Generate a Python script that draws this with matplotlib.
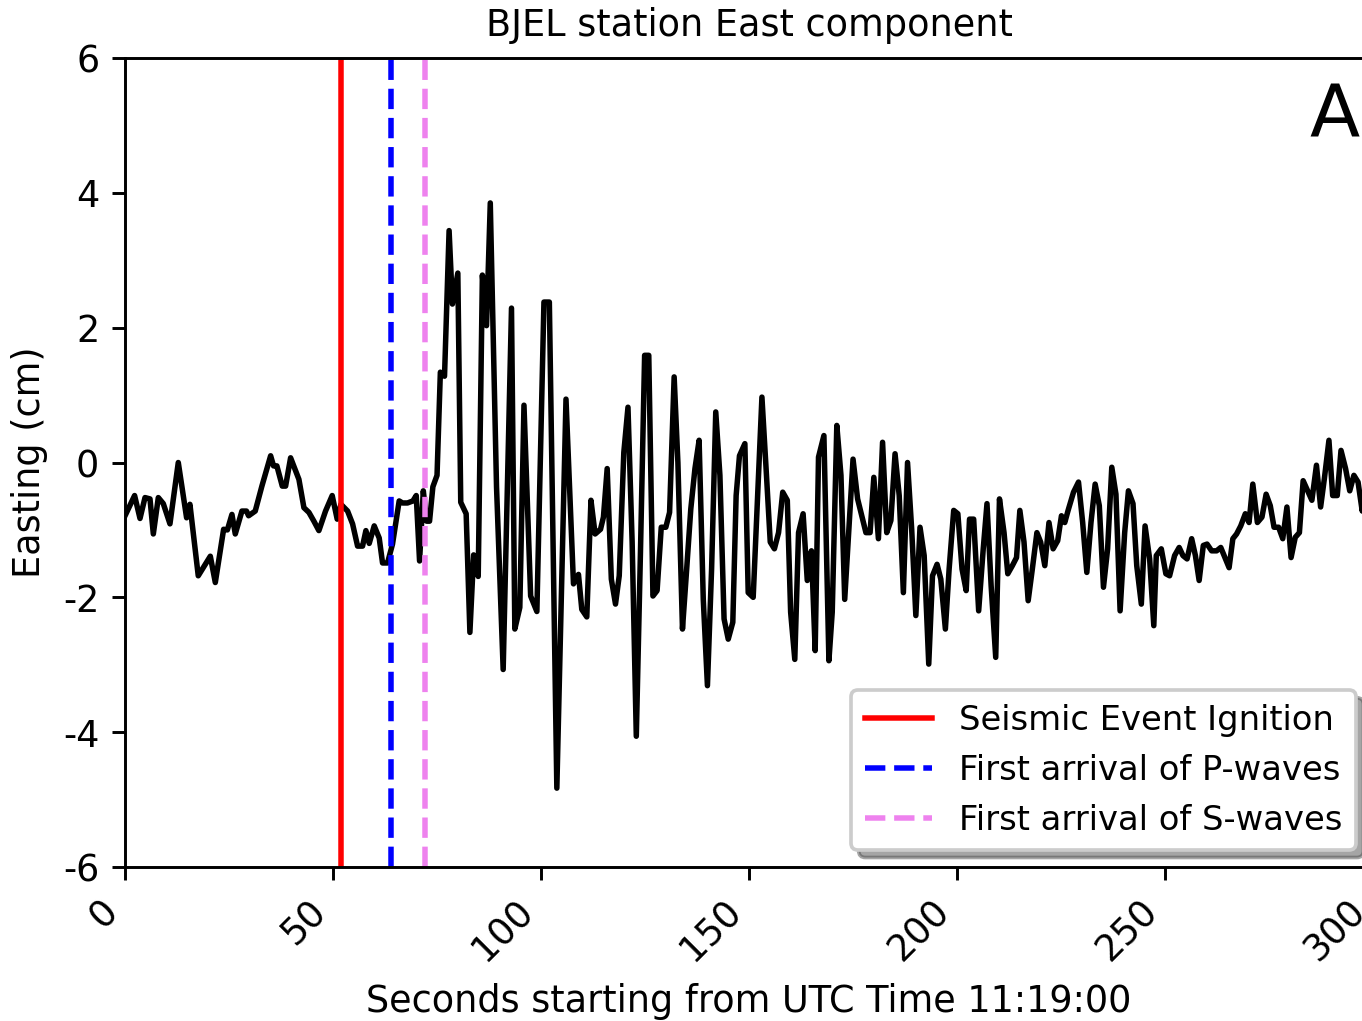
import numpy as np
import matplotlib
matplotlib.use("Agg")
import matplotlib.pyplot as plt

plt.rcParams['axes.unicode_minus'] = False

# ============================
# DATA
# ============================
seconds = [
    0, 2.3, 3.6, 4.8, 6.0, 6.8, 8.0, 9.2, 10.8, 12.8, 14.8, 15.6, 17.6, 20.5, 21.7,
    23.7, 24.6, 25.7, 26.5, 28.1, 29.2, 29.7, 31.3, 32.9, 35.0, 35.7, 36.5, 37.8,
    38.6, 39.8, 41.8, 43.0, 44.2, 45.4, 46.6, 48.2, 49.8, 51.0, 51.9, 53.5, 54.7,
    55.9, 57.1, 57.9, 58.7, 59.9, 61.1, 61.9, 63.1, 64.3, 65.9, 66.7, 67.9, 69.2,
    70.0, 70.8, 71.3, 71.7, 72.5, 73.2,
    74.0, 75.0, 75.8, 76.8, 77.9, 78.7, 80.0, 80.7, 82.0, 82.9, 83.8, 84.9, 85.9,
    86.9, 87.8, 89.3, 90.9, 92.9, 93.7, 94.9, 95.9, 97.5, 99.0, 100.7, 102.0,
    103.8, 106.0, 107.8, 109.0, 109.8, 111.0, 112.0,
    113.0, 114.3, 115.0, 115.9, 116.9, 117.9, 118.8, 119.9, 120.9, 121.9, 122.9,
    123.9, 124.9, 125.9, 126.9, 127.9, 128.9, 130.0, 130.9, 132.0, 132.9, 134.0,
    134.9, 136.0, 137.0, 138.0, 139.0, 140.0, 141.0, 142.0, 143.0, 144.0, 145.0,
    146.1, 146.9, 147.7, 149.0, 149.8, 151.0, 152.1, 153.1, 154.1, 155.1, 156.1,
    157.1, 158.1,
    159.2, 160.0, 161.0, 161.9, 163.0, 164.0, 165.0, 165.9, 166.7, 168.0, 169.2,
    170.0, 171.1, 172.1, 173.0, 174.1, 175.0, 176.1, 177.1, 178.1, 179.1, 180.0,
    181.1, 182.1, 183.1, 184.1, 185.1, 186.1, 187.1, 188.1, 189.1, 190.1, 191.1,
    192.1, 193.2, 194.1, 195.2, 196.1, 197.2, 198.1, 199.2, 200.2, 201.2, 202.2,
    203.0, 204.0, 205.2, 206.3, 207.2, 208.2, 209.3, 210.2, 211.3, 212.2, 213.3,
    214.3, 215.1, 216.1, 217.1, 218.1, 219.2, 220.1, 221.1, 222.1, 223.1, 224.2,
    225.1, 225.9, 226.7, 228.0, 229.2, 230.2, 231.2, 232.2, 233.2, 234.2, 235.2,
    236.2, 237.2, 238.2, 239.2, 240.3, 241.2, 242.3, 243.2, 244.3, 245.2, 246.3,
    247.3,
    247.9, 249.1, 250.2, 251.1, 252.3, 253.4, 254.3, 255.3, 256.4, 257.3, 258.2,
    259.2, 260.1, 261.2, 262.4, 263.4, 264.4, 265.4, 266.3, 267.2, 268.2, 269.3,
    270.2, 271.1, 272.2, 273.3, 274.3, 275.3, 276.2, 277.3, 278.3, 279.3, 280.3,
    281.3, 282.3, 283.2, 284.3, 285.3, 286.4, 287.4, 288.3, 289.4, 290.3, 291.4,
    292.3, 293.4, 294.4, 295.4, 296.4, 297.4, 298.2,
]
easting = [
    -0.79, -0.49, -0.83, -0.52, -0.54, -1.06, -0.52, -0.61, -0.91, 0.0, -0.82, -0.62,
    -1.68, -1.39, -1.78, -0.99, -1.0, -0.77, -1.06, -0.72, -0.72, -0.79, -0.72,
    -0.35, 0.1, -0.05, -0.05, -0.35, -0.35, 0.07, -0.25, -0.67, -0.74, -0.87, -1.01,
    -0.72, -0.49, -0.84, -0.62, -0.72, -0.91, -1.24, -1.24, -1.01, -1.2, -0.94,
    -1.12, -1.49, -1.49, -1.21, -0.57, -0.6, -0.6, -0.57, -0.49, -1.46, -0.87,
    -0.42, -0.87, -0.87,
    -0.36, -0.19, 1.34, 1.28, 3.44, 2.35, 2.81, -0.59, -0.76, -2.52, -1.37, -1.69,
    2.78, 2.03, 3.85, -0.36, -3.07, 2.29, -2.47, -2.15, 0.85, -1.98, -2.21, 2.38,
    2.38, -4.83, 0.94, -1.8, -1.66, -2.18, -2.29, -0.56,
    -1.06, -0.99, -0.81, -0.09, -1.73, -2.10, -1.68, 0.15, 0.82, -1.18, -4.06,
    -1.33, 1.59, 1.59, -1.98, -1.90, -0.96, -0.96, -0.74, 1.27, 0.0, -2.47, -1.68,
    -0.69, -0.09, 0.33, -2.03, -3.31, -1.58, 0.75, -0.19, -2.32, -2.62, -2.37,
    -0.49, 0.10, 0.28, -1.93, -2.0, -0.44, 0.97, -0.09, -1.18, -1.28, -1.04, -0.44,
    -0.56, -2.22, -2.92, -1.04, -0.76, -1.75, -1.31, -2.79, 0.08, 0.40, -2.94,
    -2.22, 0.55, -0.19, -2.03, -0.89, 0.05, -0.54, -0.79, -1.04, -1.04, -0.22,
    -1.13, 0.30, -1.04, -0.86, 0.13, -0.49, -1.93, 0.0, -0.99, -2.27, -0.96, -1.38,
    -2.99, -1.68, -1.51, -1.73, -2.47, -1.58, -0.71, -0.76, -1.58, -1.90,
    -0.84, -0.84, -2.2, -1.28, -0.61, -1.83, -2.89, -0.54, -1.04, -1.65, -1.53,
    -1.41, -0.71, -1.18, -2.05, -1.58, -1.04, -1.18, -1.53, -0.89, -1.28, -1.16,
    -0.79, -0.89, -0.71, -0.44, -0.29, -0.89, -1.63, -0.89, -0.32, -0.64, -1.85,
    -1.28, -0.07, -0.47, -2.2, -1.04, -0.42, -0.61, -1.53, -2.10, -0.94, -1.43,
    -2.42,
    -1.38, -1.28, -1.65, -1.68, -1.38, -1.26, -1.38, -1.43, -1.13, -1.38, -1.75,
    -1.23, -1.21, -1.31, -1.31, -1.26, -1.41, -1.56, -1.13, -1.06, -0.94, -0.76,
    -0.89, -0.32, -0.89, -0.81, -0.47, -0.64, -0.96, -0.96, -1.13, -0.66, -1.41,
    -1.11, -1.04, -0.27, -0.42, -0.56, -0.04, -0.66, -0.24, 0.33, -0.49, -0.49,
    0.18, -0.09, -0.42, -0.19, -0.29, -0.72, -0.27,
]

ignition_time = 52
p_wave_time = 64
s_wave_time = 72

xticks = [0, 50, 100, 150, 200, 250, 300]
yticks = [-6, -4, -2, 0, 2, 4, 6]

# ============================
# PLOT
# ============================
dpi = 264
fig = plt.figure(figsize=(1362 / dpi, 1021 / dpi), dpi=dpi)
ax = fig.add_axes([0.0918, 0.1508, 0.9163, 0.7924])

ax.plot(seconds, easting, color='black')
ax.axvline(ignition_time, color='red', label='Seismic Event Ignition')
ax.axvline(p_wave_time, color='blue', linestyle='--', label='First arrival of P-waves')
ax.axvline(s_wave_time, color='violet', linestyle='--', label='First arrival of S-waves')

ax.set_xlim(0, 300)
ax.set_ylim(-6, 6)
ax.set_xticks(xticks)
ax.set_xticklabels([str(x) for x in xticks], rotation=45, ha='right')
ax.set_yticks(yticks)

ax.set_title("BJEL station East component", fontsize=10)
ax.set_xlabel("Seconds starting from UTC Time 11:19:00")
ax.set_ylabel("Easting (cm)")
ax.text(0.969, 0.927, "A", transform=ax.transAxes, fontsize=20,
        ha='center', va='center')

ax.legend(loc='lower right', shadow=True, fontsize=9.2)

fig.savefig("out.png", dpi=dpi)
